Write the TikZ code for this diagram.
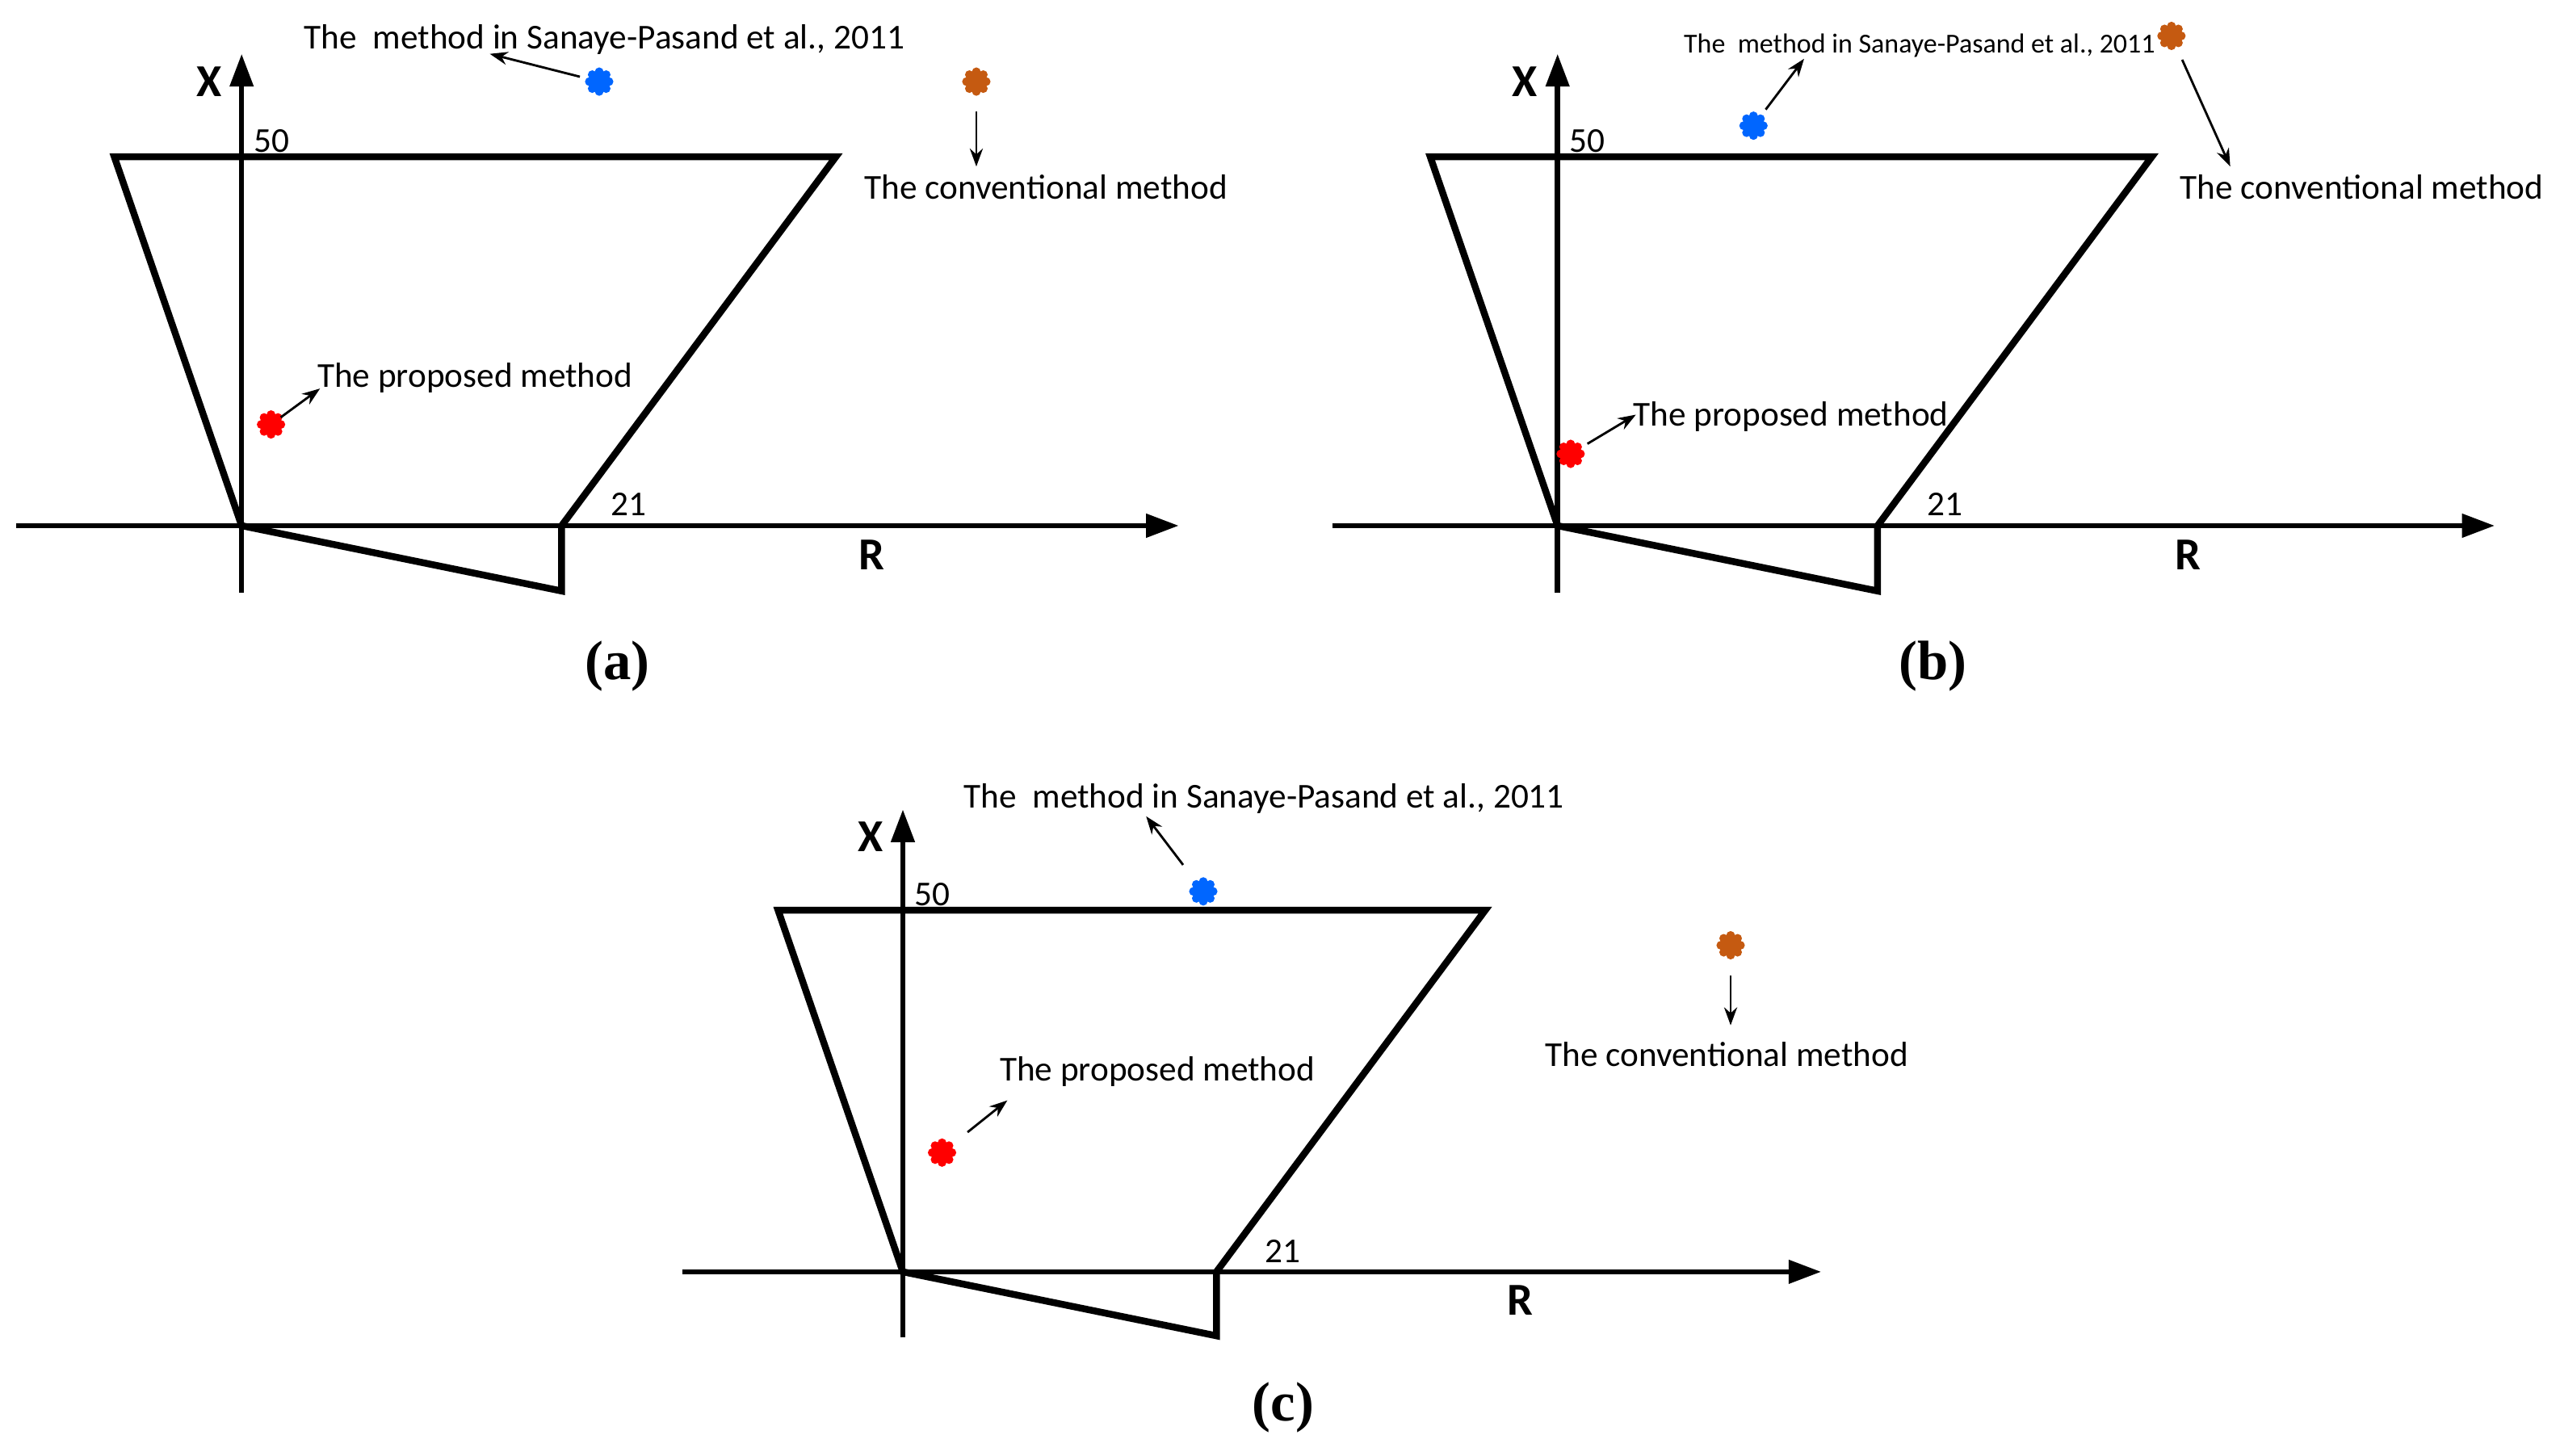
\documentclass[tikz,border=0pt]{standalone}
\usepackage{fontspec}
\setmainfont{Carlito}
\newfontfamily\capfont{Liberation Serif}
\usetikzlibrary{arrows.meta}

\definecolor{mblue}{RGB}{0,102,255}
\definecolor{morange}{RGB}{197,90,17}
\definecolor{mred}{RGB}{255,0,0}

\begin{document}
\begin{tikzpicture}[x=0.5pt, y=-0.5pt,
		axis/.style={line width=1.6pt, -{Triangle[length=10pt, width=7pt]}},
		zone/.style={line width=2.1pt},
		note/.style={inner sep=0pt, anchor=base west, font=\fontsize{10.7}{12}\selectfont},
		small note/.style={note, font=\fontsize{8.4}{10}\selectfont},
		axlabel/.style={inner sep=0pt, font=\fontsize{14}{16}\selectfont\bfseries},
		caption/.style={inner sep=0pt, font=\capfont\bfseries\fontsize{17}{20}\selectfont},
		marker/.style={circle, inner sep=0pt, minimum size=7pt},
		pointer/.style={line width=0.7pt, -{Stealth[length=5.5pt, width=4pt]}}]

		\useasboundingbox (0,0) rectangle (1568,891.8);

		% the three zones
		\foreach \p/\ox/\oy/\s/\cx/\cy in {a/148/322/1/378/408, b/954/322/1/1184/408, c/553/779/0.98/786/862} {
			\begin{scope}[shift={(\ox,\oy)}, scale=\s]
				\coordinate (o\p) at (0,0);
				\coordinate (xs\p) at (0,41);
				\coordinate (xe\p) at (0,-289);
				\coordinate (rs\p) at (-138,0);
				\coordinate (re\p) at (574,0);
				\coordinate (tl\p) at (-78,-226);
				\coordinate (tr\p) at (364,-226);
				\coordinate (k\p) at (196,0);
				\coordinate (kb\p) at (196,40);

				\draw[axis] (xs\p) -- (xe\p);
				\draw[axis] (rs\p) -- (re\p);
				\draw[zone] (o\p) -- (tl\p) -- (tr\p) -- (k\p) -- (kb\p) -- cycle;

				\node[axlabel] (x\p) at (-20,-272) {X};
				\node[axlabel] (r\p) at (386,18) {R};
				\node[note] (top\p) at (7,-229) {50};
				\node[note] (reach\p) at (226,-6) {21};
			\end{scope}
			\node[caption] (cap\p) at (\cx,\cy) {(\p)};
		}

		% markers
		\node[marker] (blueA) at (367,50) {};
		\node[marker] (orangeA) at (598,50) {};
		\node[marker] (redA) at (166,260) {};
		\node[marker] (blueB) at (1074,77) {};
		\node[marker] (orangeB) at (1330,22) {};
		\node[marker] (redB) at (962,278) {};
		\node[marker] (blueC) at (737,546) {};
		\node[marker] (orangeC) at (1060,579) {};
		\node[marker] (redC) at (577,706) {};

		\foreach \m/\c in {blueA/mblue, orangeA/morange, redA/mred,
				blueB/mblue, orangeB/morange, redB/mred,
				blueC/mblue, orangeC/morange, redC/mred} {
			\fill[\c] (\m) circle[radius=5];
			\foreach \a in {0,45,...,315}
				\fill[\c] (\m) ++(\a:6) circle[radius=2.7];
		}

		% texts
		\node[note] (sanA) at (186,30) {The\ \ method in Sanaye-Pasand et al., 2011};
		\node[note] (convA) at (529,122) {The conventional method};
		\node[note] (propA) at (194,237) {The proposed method};
		\node[small note] (sanB) at (1031,32.5) {The\ \ method in Sanaye-Pasand et al., 2011};
		\node[note] (convB) at (1335,122) {The conventional method};
		\node[note] (propB) at (1000,261) {The proposed method};
		\node[note] (sanC) at (590,495) {The\ \ method in Sanaye-Pasand et al., 2011};
		\node[note] (convC) at (946,653) {The conventional method};
		\node[note] (propC) at (612,662) {The proposed method};

		% arrow ends
		\coordinate (tipBlueA) at (300,33);
		\coordinate (tipOrangeA) at (598,102);
		\coordinate (tipRedA) at (196,238);
		\coordinate (tipBlueB) at (1105,36);
		\coordinate (tipOrangeB) at (1366,102);
		\coordinate (tipRedB) at (1002,254);
		\coordinate (tipBlueC) at (702,500);
		\coordinate (tipOrangeC) at (1060,628);
		\coordinate (tipRedC) at (617,674);

		\path
		(blueA) edge[pointer, shorten <=2.4pt] (tipBlueA)
		(orangeA) edge[pointer, shorten <=5.5pt] (tipOrangeA)
		(redA) edge[pointer] (tipRedA)
		(blueB) edge[pointer, shorten <=2.5pt] (tipBlueB)
		(orangeB) edge[pointer, shorten <=4.3pt] (tipOrangeB)
		(redB) edge[pointer, shorten <=2.3pt] (tipRedB)
		(blueC) edge[pointer, shorten <=6.5pt] (tipBlueC)
		(orangeC) edge[pointer, shorten <=5.5pt] (tipOrangeC)
		(redC) edge[pointer, shorten <=6.3pt] (tipRedC);
	\end{tikzpicture}
\end{document}
